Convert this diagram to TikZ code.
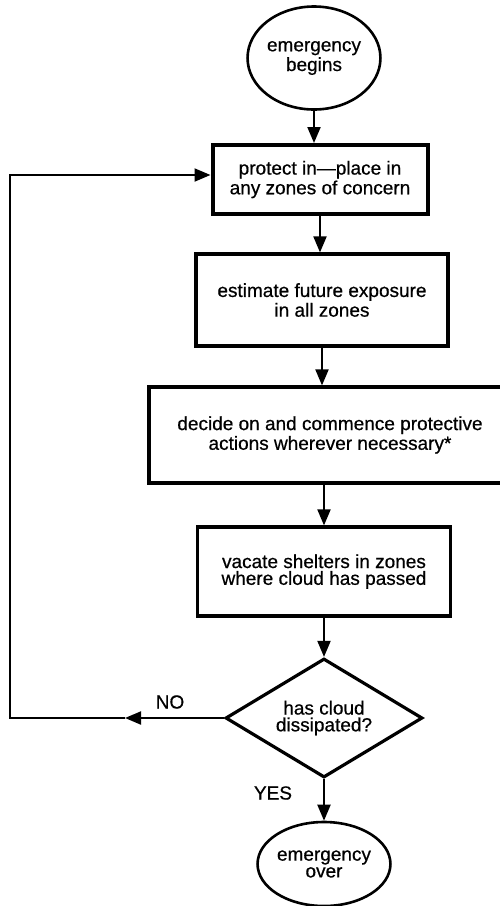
\documentclass[tikz,border=0pt]{standalone}
\usepackage{fontspec}
\setmainfont{Liberation Sans}[FakeBold=0.6]
\usetikzlibrary{arrows.meta,positioning,shapes.geometric}

\begin{document}
\begin{tikzpicture}[x=0.5pt,y=-0.5pt,
    every node/.style={font=\fontsize{9.5}{8.4}\selectfont, align=center},
    stepbox/.style={draw, line width=1.6pt, inner sep=0pt},
    terminal/.style={draw, ellipse, line width=1.3pt, inner sep=0pt},
    decision/.style={draw, diamond, aspect=1.66, line width=1.6pt, inner sep=0pt},
    flow/.style={line width=1pt, -{Triangle[length=8pt,width=6.5pt]}}]

      \useasboundingbox (0,0) rectangle (499,906);

      \node[terminal, minimum width=62.5pt, minimum height=51.5pt] at (314,58) (begins) {emergency\\begins};
      \node[stepbox, line width=2pt, minimum width=107.5pt, minimum height=34.5pt] at (320,179.5) (protect) {protect in---place in\\any zones of concern};
      \node[stepbox, minimum width=126pt, minimum height=46pt] at (322,300) (estimate) {estimate future exposure\\in all zones};
      \node[stepbox, minimum width=181pt, minimum height=48pt] at (330,435) (decide) {decide on and commence protective\\actions wherever necessary*};
      \node[stepbox, minimum width=126.5pt, minimum height=44.5pt] at (324,571.5) (vacate) {vacate shelters in zones\\where cloud has passed};
      \node[decision, minimum width=98.5pt, minimum height=59.5pt] at (324,718) (dissipated) {has cloud\\dissipated?};
      \node[terminal, minimum width=57pt, minimum height=42pt] at (324,864) (over) {emergency\\over};

      \node at (170,702) (noLbl) {NO};
      \node at (273,793) (yesLbl) {YES};

      \draw[flow] (begins.south) -- (begins.south |- protect.north);
      \draw[flow] (protect.south) -- (protect.south |- estimate.north);
      \draw[flow] (estimate.south) -- (estimate.south |- decide.north);
      \draw[flow] (vacate.north |- decide.south) -- (vacate.north);
      \draw[flow] (vacate.south) -- (dissipated.north);
      \draw[flow] (dissipated.south) -- (over.north);

      %\draw the NO loop back to the top
      \coordinate (noTip) at (125,718);
      \coordinate (loopBot) at (10,718);
      \coordinate (loopTop) at (10,175);
      \draw[flow] (dissipated.west) -- (noTip);
      \draw[flow] (noTip) -- (loopBot) -- (loopTop) -- (loopTop -| protect.west);

\end{tikzpicture}
\end{document}
